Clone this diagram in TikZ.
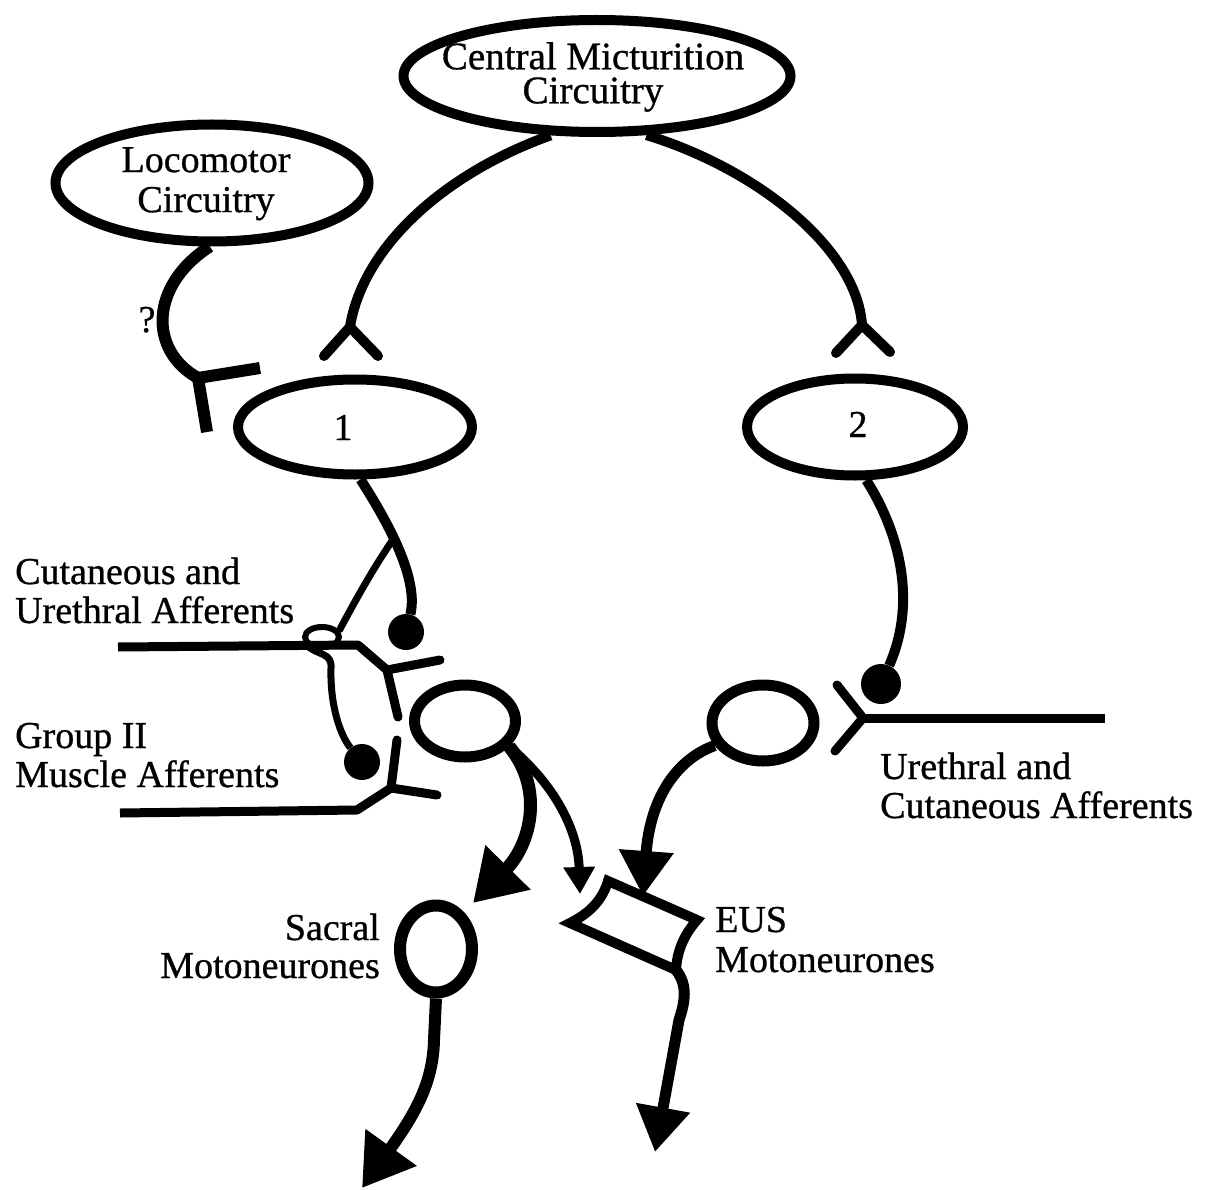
\documentclass[tikz,border=0pt]{standalone}
\usepackage{fontspec}
\setmainfont{Liberation Serif}[FakeBold=0.8]
\usetikzlibrary{shapes.geometric,arrows.meta}
\begin{document}
\begin{tikzpicture}[x=1pt,y=-1pt,
  every node/.style={font=\fontsize{38}{40}\selectfont},
  lbl/.style={inner sep=0pt},
  cell/.style={draw, ellipse, line width=10pt, inner sep=0pt, fill=white},
  smallcell/.style={draw, ellipse, line width=11pt, inner sep=0pt, fill=white},
  axon/.style={line width=10pt},
  thickaxon/.style={line width=13pt},
  aff/.style={line width=9pt, line join=round},
  synbranch/.style={line width=10pt, line cap=round},
  knob/.style={fill=black, circle, inner sep=0pt},
  tipL/.style={-{Triangle[length=50pt,width=60pt]}},
  tipM/.style={-{Triangle[length=45pt,width=52pt]}},
  tipS/.style={-{Triangle[length=27pt,width=30pt]}}
]
\useasboundingbox (0,0) rectangle (1212,1190);

% ---- cell bodies ----
\node[cell, minimum width=387pt, minimum height=112pt] (cmc) at (597,76) {};
\node[lbl, anchor=north, align=center, font=\fontsize{39}{34}\selectfont] (cmct) at (593,42) {Central Micturition\\Circuitry};

\node[cell, minimum width=313pt, minimum height=117pt] (loco) at (212,183) {};
\node[lbl, anchor=north, align=center] (locot) at (206,147) {Locomotor\\Circuitry};

\node[cell, minimum width=234pt, minimum height=95pt] (n1) at (355,427) {};
\node[lbl, anchor=base] (n1t) at (343,440) {1};
\node[cell, minimum width=216pt, minimum height=97pt] (n2) at (855,427) {};
\node[lbl, anchor=base] (n2t) at (858,437) {2};

\node[smallcell, minimum width=101pt, minimum height=72pt] (ia) at (465,721) {};
\node[smallcell, minimum width=102pt, minimum height=76pt] (ib) at (763,723) {};
\node[draw, ellipse, line width=12pt, inner sep=0pt, minimum width=72pt, minimum height=87pt] (sac) at (436,949) {};

% ---- named points ----
\coordinate (yl) at (350,327);  \coordinate (yla) at (324,356); \coordinate (ylb) at (378,356);
\coordinate (yr) at (862,325);  \coordinate (yra) at (836,353); \coordinate (yrb) at (890,352);
\coordinate (jt) at (198,378);  \coordinate (jtbar) at (260,368); \coordinate (jtstub) at (207,432);
\coordinate (br) at (394,538);
\coordinate (a1s) at (118,647); \coordinate (a1b) at (358,645); \coordinate (ja) at (387,670);
\coordinate (ja1) at (440,660); \coordinate (ja2) at (398,717);
\coordinate (a2s) at (120,813); \coordinate (a2b) at (357,810); \coordinate (jb) at (391,788);
\coordinate (jb1) at (397,740); \coordinate (jb2) at (437,795);
\coordinate (a3s) at (1105,718); \coordinate (jc) at (863,718);
\coordinate (jc1) at (837,685); \coordinate (jc2) at (835,751);
\coordinate (eL) at (570,923); \coordinate (eT) at (608,881);
\coordinate (eR) at (697,920); \coordinate (eB) at (676,970);
\coordinate (eusIn1) at (580,894); \coordinate (eusIn2) at (643,896);
\coordinate (sacIn) at (473,903); \coordinate (sacOut) at (362,1188);
\coordinate (eusOut) at (655,1152);

\node[knob, minimum size=36pt] (k1) at (406,632) {};
\node[knob, minimum size=36pt] (k2) at (362,762) {};
\node[knob, minimum size=40pt] (k3) at (881,684) {};

% ---- central micturition projections ----
\draw[axon] (cmc.232) .. controls (440,175) and (362,250) .. (yl);
\draw[synbranch] (yla) -- (yl) -- (ylb);
\draw[axon] (cmc.310) .. controls (760,170) and (857,250) .. (yr);
\draw[synbranch] (yra) -- (yr) -- (yrb);

% ---- locomotor projection ----
\draw[line width=12pt] (loco.268) .. controls (150,285) and (148,350) .. (jt) -- (jtstub);
\draw[line width=12pt] (jt) -- (jtbar);
\node[lbl, anchor=base] (qm) at (147,332) {?};

% ---- interneurone 1 outputs ----
\draw[axon] (n1.276) .. controls (380,510) and (420,575) .. (k1);
\draw[line width=7pt] (br) .. controls (372,570) and (354,603) .. (339,631);

% ---- afferents ----
\draw[aff] (a1s) -- (a1b) -- (ja);
\draw[synbranch, line width=9pt] (ja1) -- (ja) -- (ja2);
\node[draw, ellipse, line width=6pt, inner sep=0pt, minimum width=34pt, minimum height=20pt] (loop) at (322,637) {};
\draw[line width=7pt] (loop.205) .. controls (318,656) and (332,652) .. (331,668)
   .. controls (330,705) and (340,735) .. (k2);
\draw[aff] (a2s) -- (a2b) -- (jb);
\draw[synbranch, line width=9pt] (jb1) -- (jb) -- (jb2);
\draw[aff] (a3s) -- (jc);
\draw[synbranch, line width=9pt] (jc1) -- (jc) -- (jc2);

% ---- interneurone 2 output ----
\draw[axon] (n2.282) .. controls (898,530) and (918,600) .. (k3);

% ---- EUS motoneurone ----
\draw[line width=10pt, line join=miter] (eL) .. controls (592,912) and (603,898) .. (eT)
   .. controls (640,895) and (670,908) .. (eR)
   .. controls (683,936) and (677,952) .. (eB) -- cycle;
\draw[line width=11pt, tipM] (eB) .. controls (688,985) and (685,1002) .. (679,1020) -- (eusOut);

% ---- interneurone outputs to motoneurones ----
\draw[thickaxon, tipL] (ia.-30) .. controls (545,790) and (530,845) .. (sacIn);
\draw[line width=9pt, tipS] (ia.-30) .. controls (555,785) and (578,830) .. (eusIn1);
\draw[line width=11pt, tipM] (ib.205) .. controls (675,760) and (650,800) .. (eusIn2);
\draw[line width=12pt, tipL] (sac.south) -- (434,1040) .. controls (433,1080) and (418,1110) .. (sacOut);

% ---- labels ----
\node[lbl, anchor=base west] (cua) at (15,584) {Cutaneous and};
\node[lbl, anchor=base west] (cub) at (15,623) {Urethral Afferents};
\node[lbl, anchor=base west] (gra) at (15,748) {Group II};
\node[lbl, anchor=base west] (grb) at (15,787) {Muscle Afferents};
\node[lbl, anchor=base west] (ura) at (880,779) {Urethral and};
\node[lbl, anchor=base west] (urb) at (880,818) {Cutaneous Afferents};
\node[lbl, anchor=base east] (saa) at (380,940) {Sacral};
\node[lbl, anchor=base east] (sab) at (380,978) {Motoneurones};
\node[lbl, anchor=base west] (eua) at (715,932) {EUS};
\node[lbl, anchor=base west] (eub) at (715,972) {Motoneurones};
\end{tikzpicture}
\end{document}
